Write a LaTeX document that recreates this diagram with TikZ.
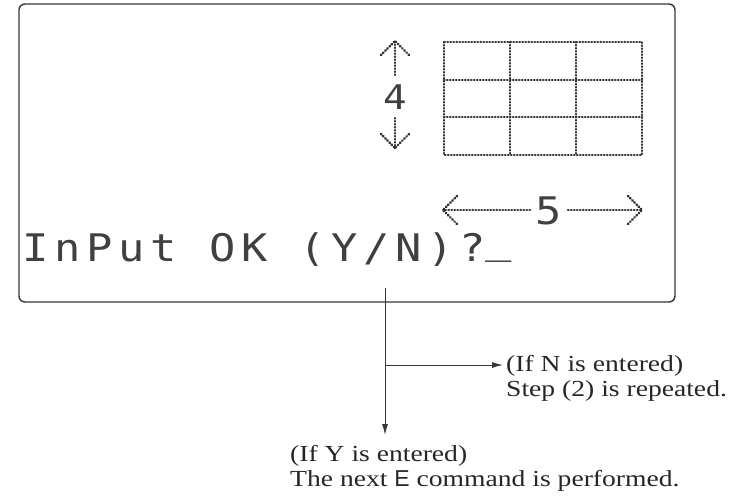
\documentclass[tikz,border=0pt]{standalone}
\usepackage{fontspec}
\setmainfont{Liberation Serif}
\newfontfamily\lcdfont[FakeStretch=1.15,LetterSpace=15]{DejaVu Sans Mono}
\newfontfamily\lcddigit[FakeStretch=1.15]{DejaVu Sans Mono}
\newfontfamily\capfont[FakeStretch=1.2]{Liberation Serif}
\newfontfamily\keyfont{Liberation Sans}
\usetikzlibrary{arrows.meta,calc}
\definecolor{lcdgray}{gray}{0.25}
\definecolor{inkgray}{gray}{0.22}

\begin{document}
\begin{tikzpicture}[
  x=1pt, y=-1pt,
  >={Latex[length=11pt,width=6pt]},
  screen/.style={
    draw=inkgray,
    line width=1.4pt,
    rounded corners=6pt,
    minimum width=656pt,
    minimum height=298pt,
    inner sep=0pt
  },
  lcdtext/.style={font=\lcdfont\fontsize{38}{40}\selectfont, text=lcdgray, inner sep=0pt},
  lcdnum/.style={font=\lcddigit\fontsize{#1}{#1}\selectfont, text=lcdgray, inner sep=0pt},
  dotline/.style={draw=black!80, line width=2.6pt, line cap=round, dash pattern=on 0.5pt off 2.5pt},
  caption/.style={font=\capfont\fontsize{23}{25}\selectfont, align=left, inner sep=0pt, text=black!85},
  flow/.style={->, draw=inkgray, line width=1pt}
]
\useasboundingbox (0,0) rectangle (739,503);

% display frame
\node[screen] (screen) at (347,153) {};

% matrix 4 x 5
\draw[dotline] (444,42) rectangle (642,155);
\foreach \gy in {80,117}
  \draw[dotline] (444,\gy) -- (642,\gy);
\foreach \gx in {510,576}
  \draw[dotline] (\gx,42) -- (\gx,155);

\node[lcdnum=34] (rows) at (395,97) {4};
\draw[dotline] (395,75) -- (395,41);
\draw[dotline] (381,55) -- (395,41) -- (409,55);
\draw[dotline] (395,118) -- (395,148);
\draw[dotline] (381,134) -- (395,148) -- (409,134);

\node[lcdnum=38] (cols) at (549,211) {5};
\draw[dotline] (530,210) -- (443,210);
\draw[dotline] (457,196) -- (443,210) -- (457,224);
\draw[dotline] (568,210) -- (642,210);
\draw[dotline] (628,196) -- (642,210) -- (628,224);

\node[lcdtext, anchor=base west] (prompt) at (22.6,261) {InPut OK (Y/N)?\raisebox{8pt}{\_}};

% answers
\coordinate (yn) at (385,288);
\coordinate (fork) at (385,365);
\node[caption, anchor=north west] (ifn) at (506,355) {(If N is entered)\\Step (2) is repeated.};
\node[caption, anchor=north west] (ify) at (290,445) {(If Y is entered)\\The next {\keyfont E} command is performed.};

\draw[flow, shorten >=10pt] (yn) -- (yn |- ify.north);
\draw[flow, shorten >=3pt] (fork) -- (fork -| ifn.west);
\end{tikzpicture}
\end{document}
